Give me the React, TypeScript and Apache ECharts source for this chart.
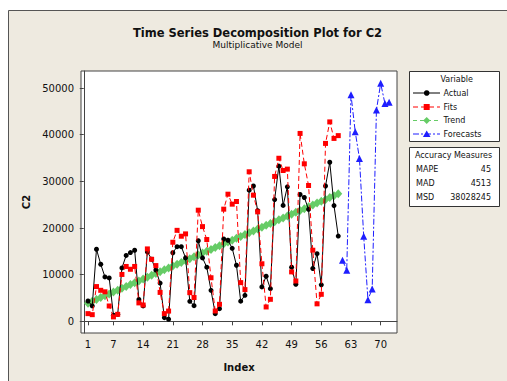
import React, { useEffect, useRef } from "react";
import * as echarts from "echarts";

const actual = [
  4360, 3300, 15450, 12230, 9520, 9300, 1300, 1500, 11450, 14120,
  14740, 15240, 4700, 3300, 14880, 13300, 11000, 8200, 800, 450,
  14700, 16000, 16000, 13600, 4290, 3360, 17270, 13600, 11600, 6650,
  1640, 2720, 17650, 17380, 15650, 12020, 4320, 5580, 28110, 29000,
  23700, 7370, 9660, 7010, 26100, 33260, 24850, 28830, 11600, 7940,
  27180, 26540, 24000, 11330, 14500, 7830, 29000, 34100, 24800, 18270,
];
const fits = [
  1650, 1430, 7450, 6650, 6330, 3290, 950, 1500, 10050, 11760,
  11160, 11760, 3950, 3500, 15520, 13300, 11950, 6200, 1650, 2200,
  16950, 19500, 18240, 18740, 6150, 5100, 23820, 20300, 17530, 9340,
  2220, 3650, 24040, 27250, 25110, 25680, 8300, 6800, 32050, 27040,
  23460, 12340, 3080, 4720, 31050, 34950, 32330, 32620, 10600, 8650,
  40270, 33760, 29110, 15240, 3750, 5790, 38130, 42740, 39200, 39800,
];
const trend = [
  3900, 4297, 4694, 5091, 5488, 5885, 6282, 6679, 7076, 7473,
  7870, 8267, 8664, 9061, 9458, 9855, 10252, 10649, 11046, 11443,
  11840, 12237, 12634, 13031, 13428, 13825, 14222, 14619, 15016, 15413,
  15810, 16207, 16604, 17001, 17398, 17795, 18192, 18589, 18986, 19383,
  19780, 20177, 20574, 20971, 21368, 21765, 22162, 22559, 22956, 23353,
  23750, 24147, 24544, 24941, 25338, 25735, 26132, 26529, 26926, 27323,
];
const forecasts = [13090, 10940, 48570, 40630, 34910, 18240, 4650, 6940, 45280, 51000, 46710, 46930];
const forecastStart = 61;
const xTicks = [1, 7, 14, 21, 28, 35, 42, 49, 56, 63, 70];
const yTicks = [0, 10000, 20000, 30000, 40000, 50000];
const legendNames = ["Actual", "Fits", "Trend", "Forecasts"];
const accuracyNames = ["MAPE", "MAD", "MSD"];
const accuracyValues = ["45", "4513", "38028245"];

const FONT = "DejaVu Sans";
const BLACK = "#000000";
const RED = "#FF0000";
const GREEN = "#66CC66";
const BLUE = "#1E1EFF";

export default function App() {
  const ref = useRef<HTMLDivElement>(null);
  useEffect(() => {
    const chart = echarts.init(ref.current!, null, { renderer: "svg" });
    const toPairs = (arr: number[], start: number) => arr.map((v, k) => [k + start, v]);

    const legendYs = [93, 107, 120.5, 134];
    const legendColors = [BLACK, RED, GREEN, BLUE];
    const legendDash: any[] = [null, [5, 3], [4, 3], [6, 2, 2, 2]];
    const legendGraphics: any[] = [];
    legendNames.forEach((name, k) => {
      const y = legendYs[k];
      const c = legendColors[k];
      legendGraphics.push({
        type: "line",
        shape: { x1: 413, y1: y, x2: 440, y2: y },
        style: { stroke: c, lineWidth: 1, lineDash: legendDash[k] || undefined },
        z: 20,
      });
      let marker: any;
      if (k === 0) marker = { type: "circle", shape: { cx: 426.7, cy: y, r: 2.8 }, style: { fill: c }, z: 21 };
      else if (k === 1) marker = { type: "rect", shape: { x: 423.7, y: y - 3, width: 6, height: 6 }, style: { fill: c }, z: 21 };
      else if (k === 2)
        marker = { type: "polygon", shape: { points: [[426.7, y - 3.5], [430.2, y], [426.7, y + 3.5], [423.2, y]] }, style: { fill: c }, z: 21 };
      else marker = { type: "polygon", shape: { points: [[426.7, y - 3.5], [430.5, y + 3], [422.9, y + 3]] }, style: { fill: c }, z: 21 };
      legendGraphics.push(marker);
      legendGraphics.push({
        type: "text",
        x: 443.5,
        y,
        style: { text: name, fill: "#111", font: `8px '${FONT}'`, textVerticalAlign: "middle", textAlign: "left" },
        z: 21,
      });
    });

    const accGraphics: any[] = [];
    const accYs = [169.3, 183.3, 197.7];
    accuracyNames.forEach((n, k) => {
      accGraphics.push({
        type: "text",
        x: 416,
        y: accYs[k],
        style: { text: n, fill: "#111", font: `8px '${FONT}'`, textVerticalAlign: "middle", textAlign: "left" },
        z: 21,
      });
      accGraphics.push({
        type: "text",
        x: 491,
        y: accYs[k],
        style: { text: accuracyValues[k], fill: "#111", font: `8px '${FONT}'`, textVerticalAlign: "middle", textAlign: "right" },
        z: 21,
      });
    });

    const option: any = {
      animation: false,
      backgroundColor: "#FFFFFF",
      textStyle: { fontFamily: FONT },
      graphic: [
        {
          type: "rect",
          shape: { x: 8.5, y: 10.5, width: 600, height: 400 },
          style: { fill: "#EEEAE0", stroke: "#555555", lineWidth: 1 },
          z: -100,
          silent: true,
        },
        {
          type: "text",
          x: 257.5,
          y: 33,
          style: {
            text: "Time Series Decomposition Plot for C2",
            fill: "#111",
            font: `bold 11.5px '${FONT}'`,
            textAlign: "center",
            textVerticalAlign: "middle",
          },
        },
        {
          type: "text",
          x: 257.5,
          y: 45,
          style: {
            text: "Multiplicative Model",
            fill: "#111",
            font: `9px '${FONT}'`,
            textAlign: "center",
            textVerticalAlign: "middle",
          },
        },
        {
          type: "rect",
          shape: { x: 409.5, y: 71.5, width: 90, height: 70 },
          style: { fill: "#FFFFFF", stroke: "#333333", lineWidth: 1 },
          z: 19,
        },
        {
          type: "text",
          x: 456.7,
          y: 79,
          style: { text: "Variable", fill: "#111", font: `8px '${FONT}'`, textAlign: "center", textVerticalAlign: "middle" },
          z: 21,
        },
        ...legendGraphics,
        {
          type: "rect",
          shape: { x: 409.5, y: 147.5, width: 90, height: 59 },
          style: { fill: "#FFFFFF", stroke: "#333333", lineWidth: 1 },
          z: 19,
        },
        {
          type: "text",
          x: 453.5,
          y: 155.7,
          style: { text: "Accuracy Measures", fill: "#111", font: `8px '${FONT}'`, textAlign: "center", textVerticalAlign: "middle" },
          z: 21,
        },
        ...accGraphics,
      ],
      grid: {
        left: 81,
        top: 71,
        width: 316,
        height: 262,
        show: true,
        backgroundColor: "#FFFFFF",
        borderColor: "#444444",
        borderWidth: 1,
        containLabel: false,
      },
      xAxis: {
        type: "value",
        min: -0.65,
        max: 73.85,
        name: "Index",
        nameLocation: "middle",
        nameGap: 29,
        nameTextStyle: { fontFamily: FONT, fontWeight: "bold", fontSize: 10, color: "#111" },
        axisLine: { show: true, lineStyle: { color: "#444444" } },
        axisTick: { show: true, length: 4, customValues: xTicks, lineStyle: { color: "#444444" } },
        axisLabel: {
          customValues: xTicks,
          fontFamily: FONT,
          fontSize: 10,
          color: "#111",
          margin: 6,
          formatter: (v: number) => String(v),
        },
        splitLine: { show: false },
      },
      yAxis: {
        type: "value",
        min: -2500,
        max: 53650,
        name: "C2",
        nameLocation: "middle",
        nameGap: 49,
        nameRotate: 90,
        nameTextStyle: { fontFamily: FONT, fontWeight: "bold", fontSize: 10, color: "#111" },
        axisLine: { show: true, lineStyle: { color: "#444444" } },
        axisTick: { show: true, length: 4, customValues: yTicks, lineStyle: { color: "#444444" } },
        axisLabel: {
          customValues: yTicks,
          fontFamily: FONT,
          fontSize: 10,
          color: "#111",
          margin: 7,
          formatter: (v: number) => String(v),
        },
        splitLine: { show: false },
      },
      series: [
        {
          name: "Trend",
          type: "line",
          data: toPairs(trend, 1),
          symbol: "diamond",
          symbolSize: [8, 9],
          itemStyle: { color: GREEN },
          lineStyle: { color: GREEN, width: 2, type: [4, 3] },
          z: 3,
        },
        {
          name: "Actual",
          type: "line",
          data: toPairs(actual, 1),
          symbol: "circle",
          symbolSize: 5,
          itemStyle: { color: BLACK },
          lineStyle: { color: BLACK, width: 1 },
          z: 4,
        },
        {
          name: "Fits",
          type: "line",
          data: toPairs(fits, 1),
          symbol: "rect",
          symbolSize: 5,
          itemStyle: { color: RED },
          lineStyle: { color: RED, width: 1, type: [5, 3] },
          z: 5,
        },
        {
          name: "Forecasts",
          type: "line",
          data: toPairs(forecasts, forecastStart),
          symbol: "triangle",
          symbolSize: 7,
          itemStyle: { color: BLUE },
          lineStyle: { color: BLUE, width: 1, type: [6, 2, 2, 2] },
          z: 6,
        },
      ],
    };
    chart.setOption(option);
    return () => chart.dispose();
  }, []);
  return <div ref={ref} style={{ position: "absolute", left: 0, top: 0, width: 507, height: 381 }} />;
}
